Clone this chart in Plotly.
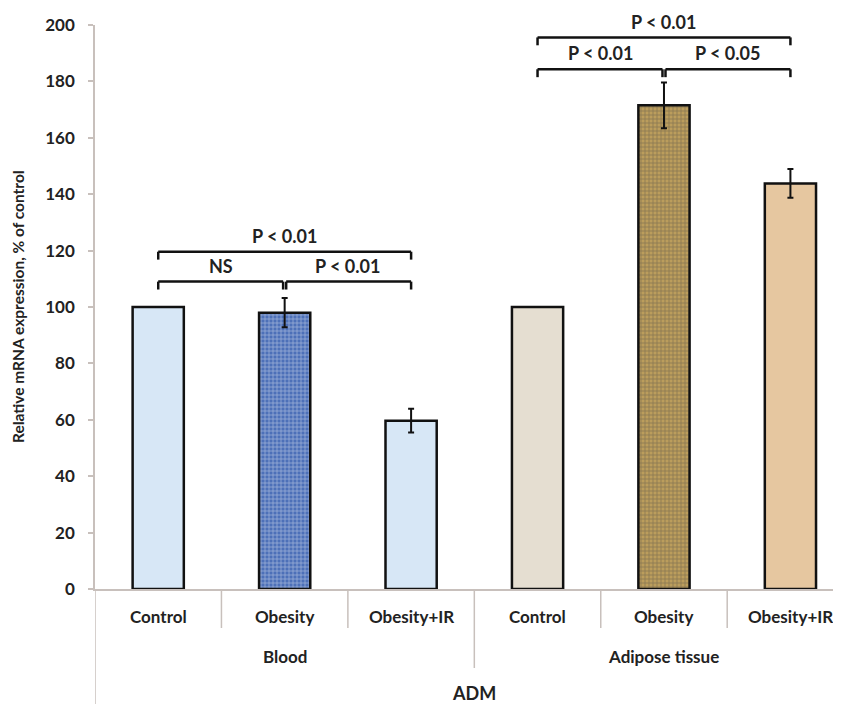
import plotly.graph_objects as go

categories = ["Control", "Obesity", "Obesity+IR", "Control", "Obesity", "Obesity+IR"]
groups = ["Blood", "Adipose tissue"]
values = [100, 98, 59.7, 100, 171.5, 143.8]
errors = [0, 5.2, 4.2, 0, 8.1, 5.1]
fills = ["#d7e7f6", "#4d70b8", "#d7e7f6", "#e5ded1", "#bb9d5c", "#e6c7a0"]
pattern_shapes = ["", "+", "", "", "+", ""]
pattern_fg = ["#ffffff", "#b3c6ea", "#ffffff", "#ffffff", "#efe0aa", "#ffffff"]
y_ticks = [0, 20, 40, 60, 80, 100, 120, 140, 160, 180, 200]

# significance brackets: (left index, right index, height, label)
brackets = [
    (0, 1, 109.0, "NS"),
    (1, 2, 109.0, "P < 0.01"),
    (0, 2, 119.6, "P < 0.01"),
    (3, 4, 184.3, "P < 0.01"),
    (4, 5, 184.3, "P < 0.05"),
    (3, 5, 195.6, "P < 0.01"),
]

FONT = "Lato"
TXT = dict(family=FONT, size=18, color="#222222", weight="bold")
CAT = dict(family=FONT, size=17, color="#222222", weight="bold")
xs = list(range(len(categories)))

fig = go.Figure()
fig.add_trace(go.Bar(
    x=xs, y=values, width=0.405,
    marker=dict(
        color=fills,
        line=dict(color="#111111", width=2.5),
        pattern=dict(shape=pattern_shapes, fgcolor=pattern_fg, size=4,
                     solidity=0.3, fillmode="overlay"),
    ),
    error_y=dict(type="data", array=errors, visible=True,
                 color="#111111", thickness=2, width=3),
    showlegend=False,
))

px = 1 / 564.0
shapes = []
annotations = []
leg = 2.8
gap = 0.012
for (a, b, h, lab) in brackets:
    l = a + (gap if b - a == 1 and a in (1, 4) else 0)
    r = b - (gap if b - a == 1 and b in (1, 4) else 0)
    for (x0, y0, x1, y1) in [(l, h, r, h), (l, h, l, h - leg), (r, h, r, h - leg)]:
        shapes.append(dict(type="line", xref="x", yref="y", x0=x0, y0=y0, x1=x1, y1=y1,
                           line=dict(color="#111111", width=2.5)))
    annotations.append(dict(x=(a + b) / 2, y=(h + 5.6) / 200.0, xref="x", yref="paper", text=lab,
                            showarrow=False, font=TXT,
                            xanchor="center", yanchor="middle"))

# x-axis dividers
for xv, bottom in [(0.5, 39), (1.5, 39), (3.5, 39), (4.5, 39), (2.5, 79)]:
    shapes.append(dict(type="line", xref="x", yref="paper", x0=xv, x1=xv, y0=0, y1=-bottom * px,
                       line=dict(color="#c8c0bc", width=1.5)))
# y axis extension down to bottom
shapes.append(dict(type="line", xref="x", yref="paper", x0=-0.5, x1=-0.5, y0=0, y1=-120 * px,
                   line=dict(color="#c8c0bc", width=1.5)))

for i, c in enumerate(categories):
    annotations.append(dict(x=i, y=-27 * px, xref="x", yref="paper", text=c, showarrow=False,
                            font=CAT, yanchor="middle"))
for gi, g in enumerate(groups):
    annotations.append(dict(x=1 + 3 * gi, y=-67 * px, xref="x", yref="paper", text=g, showarrow=False,
                            font=CAT, yanchor="middle"))
annotations.append(dict(x=2.5, y=-104 * px, xref="x", yref="paper", text="ADM", showarrow=False,
                        font=TXT, yanchor="middle"))
annotations.append(dict(x=-77 * (1 / 746.0), y=0.5, xref="paper", yref="paper",
                        text="Relative mRNA expression, % of control", textangle=-90,
                        showarrow=False, font=dict(family=FONT, size=15.5, color="#222222", weight="bold"),
                        xanchor="center", yanchor="middle"))

fig.update_layout(
    width=833, height=696,
    margin=dict(l=87, r=0, t=17, b=115),
    plot_bgcolor="white", paper_bgcolor="white",
    shapes=shapes, annotations=annotations,
    xaxis=dict(range=[-0.5, 5.4], showticklabels=False, ticks="", showgrid=False,
               zeroline=False, showline=True, linecolor="#c8c0bc", linewidth=1.5),
    yaxis=dict(range=[0, 200], tickvals=y_ticks, ticks="outside", ticklen=5,
               tickcolor="#c8c0bc", tickwidth=1.5, showgrid=False, zeroline=False,
               showline=True, linecolor="#c8c0bc", linewidth=1.5,
               tickfont=dict(family=FONT, size=17, color="#222222", weight="bold"),
               ticklabelstandoff=10),
)

fig.write_html("out.html")
